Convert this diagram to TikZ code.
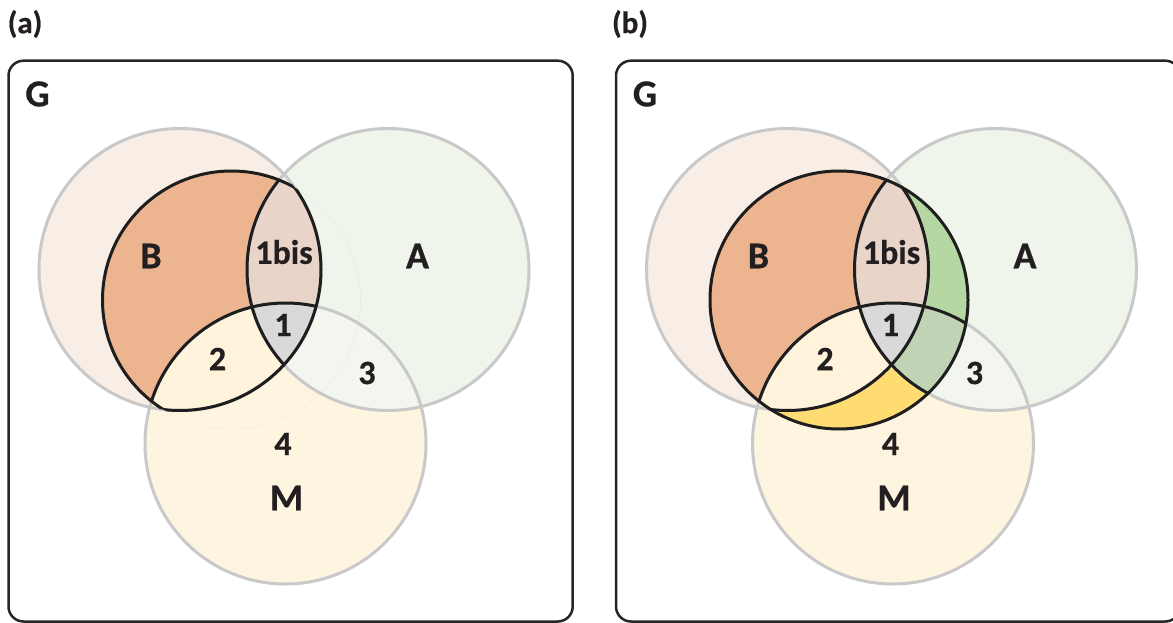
\documentclass[tikz,border=0pt]{standalone}
\usepackage{fontspec}
\setmainfont{Carlito}[BoldFeatures={FakeBold=0.6}]
\definecolor{txt}{HTML}{231F20}
\definecolor{frm}{HTML}{262626}
\definecolor{gryline}{HTML}{C9C9C9}
\definecolor{blk}{HTML}{1E1E1E}
\definecolor{fillB}{HTML}{F9EEE6}
\definecolor{fillA}{HTML}{EFF5EA}
\definecolor{fillM}{HTML}{FEF5E0}
\definecolor{fillAM}{HTML}{F2F6EE}
\definecolor{orng}{HTML}{EDB58F}
\definecolor{bis}{HTML}{E8D4C8}
\definecolor{one}{HTML}{D9D9D9}
\definecolor{two}{HTML}{FFF3DC}
\definecolor{grn}{HTML}{B5D8A2}
\definecolor{dgrn}{HTML}{C0D4B5}
\definecolor{gold}{HTML}{FFDC72}
\def\cB{(180,269.5) circle[radius=141pt]}
\def\cA{(388,269.5) circle[radius=141pt]}
\def\cM{(285.5,443.5) circle[radius=140.5pt]}
\def\cY{(231.5,300) circle[radius=129pt]}
\begin{document}
\begin{tikzpicture}[x=1pt,y=-1pt,
  gline/.style={draw=gryline,line width=3pt},
  bline/.style={draw=blk,line width=3pt},
  frmline/.style={draw=frm,line width=2.5pt,rounded corners=15pt},
  biglbl/.style={font=\fontsize{38}{42}\selectfont\bfseries,text=txt,inner sep=0pt},
  numlbl/.style={font=\fontsize{34}{38}\selectfont\bfseries,text=txt,inner sep=0pt},
  tag/.style={font=\fontsize{31}{35}\selectfont\bfseries,text=txt,inner sep=0pt}]
\useasboundingbox (0,0) rectangle (1173,623);
\clip (0,0) rectangle (1173,623);
\fill[white] (0,0) rectangle (1173,623);

% ---------------- panel (a) ----------------
\begin{scope}
  \fill[fillB] \cB;
  \fill[fillA] \cA;
  \fill[fillM] \cM;
  \begin{scope}\clip \cA; \fill[fillAM] \cM;\end{scope}
  \draw[line width=0.6pt,black,opacity=0.035] \cY;
  \begin{scope}
    \clip \cY; \clip \cB;
    \fill[orng] \cB;
    \fill[bis] \cA;
    \fill[two] \cM;
    \clip \cA; \fill[one] \cM;
  \end{scope}
  \draw[gline] \cB;
  \draw[gline] \cA;
  \draw[gline] \cM;
  \begin{scope}\clip \cB; \draw[bline] \cY;\end{scope}
  \begin{scope}\clip \cY; \draw[bline] \cB;\end{scope}
  \begin{scope}\clip \cY; \clip \cB; \draw[bline] \cA; \draw[bline] \cM;\end{scope}
  \draw[frmline] (8.5,60.7) rectangle (572.7,621.5);
  \node[tag] (tagA) at (25,24) {(a)};
  \node[biglbl] (Ga) at (37.5,94) {G};
  \node[biglbl] (Ba) at (151,256) {B};
  \node[biglbl] (Aa) at (417.5,256) {A};
  \node[biglbl] (Ma) at (286.5,498) {M};
  \node[numlbl] (bisa) at (284,252) {1bis};
  \node[numlbl] (onea) at (283,325) {1};
  \node[numlbl] (twoa) at (217.5,359) {2};
  \node[numlbl] (threea) at (367,373) {3};
  \node[numlbl] (foura) at (283,444) {4};
\end{scope}

% ---------------- panel (b) ----------------
\begin{scope}[xshift=607.5pt]
  \fill[fillB] \cB;
  \fill[fillA] \cA;
  \fill[fillM] \cM;
  \begin{scope}\clip \cA; \fill[fillAM] \cM;\end{scope}
  \begin{scope}
    \clip \cY;
    \fill[orng] \cY;
    \fill[grn] \cA;
    \fill[gold] \cM;
    \begin{scope}\clip \cA; \fill[dgrn] \cM;\end{scope}
    \begin{scope}
      \clip \cB;
      \fill[bis] \cA;
      \fill[two] \cM;
      \clip \cA; \fill[one] \cM;
    \end{scope}
  \end{scope}
  \draw[gline] \cB;
  \draw[gline] \cA;
  \draw[gline] \cM;
  \draw[bline] \cY;
  \begin{scope}\clip \cY; \draw[bline] \cA; \draw[bline] \cB; \draw[bline] \cM;\end{scope}
  \draw[frmline] (8.5,60.7) rectangle (572.7,621.5);
  \node[tag] (tagB) at (22.5,24) {(b)};
  \node[biglbl] (Gb) at (37.5,94) {G};
  \node[biglbl] (Bb) at (151,256) {B};
  \node[biglbl] (Ab) at (417.5,256) {A};
  \node[biglbl] (Mb) at (286.5,498) {M};
  \node[numlbl] (bisb) at (284,252) {1bis};
  \node[numlbl] (oneb) at (283,325) {1};
  \node[numlbl] (twob) at (217.5,359) {2};
  \node[numlbl] (threeb) at (367,373) {3};
  \node[numlbl] (fourb) at (283,444) {4};
\end{scope}
\end{tikzpicture}
\end{document}
